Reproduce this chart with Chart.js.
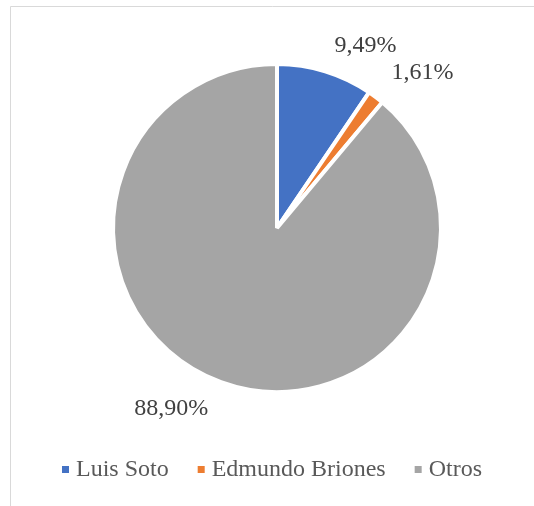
<!DOCTYPE html>
<html>
<head>
<meta charset="utf-8">
<script src="https://cdn.jsdelivr.net/npm/chart.js@4/dist/chart.umd.min.js"></script>
<style>
  html, body { margin: 0; padding: 0; background: #ffffff; }
  #wrap { position: relative; width: 534px; height: 506px; }
  canvas { display: block; }
</style>
</head>
<body>
<div id="wrap"><canvas id="chart" width="534" height="506"></canvas></div>
<script>
// Vote share by candidate (%)
const categories = ['Luis Soto', 'Edmundo Briones', 'Otros'];
const shares = [9.49, 1.61, 88.90];
const valueLabels = ['9,49%', '1,61%', '88,90%'];

const sliceColors = ['#4472C4', '#ED7D31', '#A5A5A5'];
// label placement outside each slice: extra angle (deg) and distance beyond the rim (px)
const labelAngleShift = [8.8, 6, 10.4];
const labelGap = [39, 49, 45];

const SERIF = '"Liberation Serif", "Times New Roman", serif';

// frame lines along the top and left edges
const framePlugin = {
  id: 'frame',
  beforeDraw(chart) {
    const ctx = chart.ctx;
    ctx.save();
    ctx.strokeStyle = '#D9D9D9';
    ctx.lineWidth = 1;
    ctx.beginPath();
    ctx.moveTo(10.5, chart.height + 2);
    ctx.lineTo(10.5, 6.5);
    ctx.lineTo(chart.width + 2, 6.5);
    ctx.stroke();
    ctx.restore();
  }
};

// percentage labels placed outside the slices
const valueLabelPlugin = {
  id: 'valueLabels',
  afterDatasetsDraw(chart) {
    const ctx = chart.ctx;
    const arcs = chart.getDatasetMeta(0).data;
    ctx.save();
    ctx.font = '24px ' + SERIF;
    ctx.fillStyle = '#404040';
    ctx.textAlign = 'center';
    ctx.textBaseline = 'middle';
    arcs.forEach((arc, i) => {
      const p = arc.getProps(['x', 'y', 'startAngle', 'endAngle', 'outerRadius'], true);
      const mid = (p.startAngle + p.endAngle) / 2 + labelAngleShift[i] * Math.PI / 180;
      const d = p.outerRadius + labelGap[i];
      ctx.fillText(valueLabels[i], p.x + Math.cos(mid) * d, p.y + Math.sin(mid) * d);
    });
    ctx.restore();
  }
};

// legend row centred under the pie
const legendPlugin = {
  id: 'legendRow',
  afterDraw(chart) {
    const ctx = chart.ctx;
    const box = 7, textGap = 7, itemGap = 29, y = 470;
    ctx.save();
    ctx.font = '24px ' + SERIF;
    ctx.textBaseline = 'middle';
    const widths = categories.map(c => ctx.measureText(c).width);
    const total = widths.reduce((a, w) => a + box + textGap + w, 0) + itemGap * (categories.length - 1);
    let x = Math.round((chart.width + 10 - total) / 2);
    categories.forEach((c, i) => {
      ctx.fillStyle = sliceColors[i];
      ctx.fillRect(x, y - box / 2 - 0.5, box, box);
      ctx.fillStyle = '#595959';
      ctx.fillText(c, x + box + textGap, y);
      x += box + textGap + widths[i] + itemGap;
    });
    ctx.restore();
  }
};

new Chart(document.getElementById('chart'), {
  type: 'pie',
  data: {
    labels: categories,
    datasets: [{
      data: shares,
      backgroundColor: sliceColors,
      borderColor: '#ffffff',
      borderWidth: 4,
      hoverOffset: 0
    }]
  },
  options: {
    responsive: false,
    animation: false,
    radius: 164,
    layout: { padding: { left: 107, top: 58, right: 87, bottom: 108 } },
    plugins: {
      legend: { display: false },
      tooltip: { enabled: false }
    }
  },
  plugins: [framePlugin, valueLabelPlugin, legendPlugin]
});
</script>
</body>
</html>
